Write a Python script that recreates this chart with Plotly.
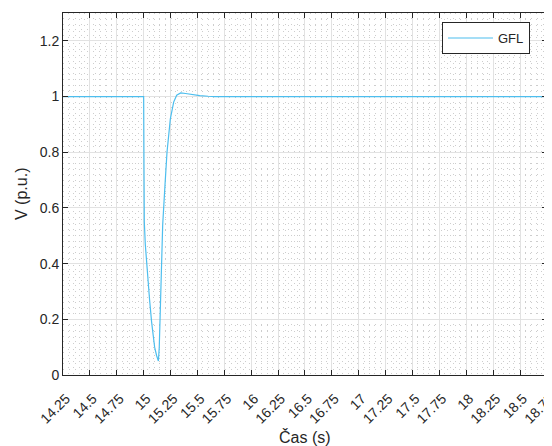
import plotly.graph_objects as go

# Data
t = [14.25, 15.0, 15.003, 15.006, 15.015, 15.025, 15.037, 15.055, 15.074, 15.09, 15.102, 15.12, 15.137,
     15.145, 15.151, 15.161, 15.177, 15.198, 15.217, 15.248, 15.279, 15.307, 15.344,
     15.39, 15.428, 15.48, 15.521, 15.6, 15.66, 18.75]
v = [1.0, 1.0, 0.75, 0.55, 0.47, 0.41, 0.35, 0.27, 0.19, 0.135, 0.10, 0.07, 0.05,
     0.10, 0.18, 0.36, 0.54, 0.68, 0.80, 0.92, 0.98, 1.005, 1.013,
     1.011, 1.008, 1.005, 1.003, 1.001, 1.0, 1.0]

x_ticks = [14.25 + 0.25 * i for i in range(19)]
x_tick_labels = [("%g" % x) for x in x_ticks]
y_ticks = [0, 0.2, 0.4, 0.6, 0.8, 1, 1.2]
y_tick_labels = ["0", "0.2", "0.4", "0.6", "0.8", "1", "1.2"]

FONT = "Liberation Sans, Arial, Helvetica, sans-serif"
AX = "#262626"

fig = go.Figure()
fig.add_trace(go.Scatter(x=t, y=v, mode="lines", name="GFL",
                         line=dict(color="#4DBEEE", width=1.2)))

common = dict(showline=True, linecolor=AX, linewidth=1, mirror="ticks",
              ticks="inside", ticklen=5, tickcolor=AX,
              showgrid=True, gridcolor="#e2e2e2", gridwidth=1,
              zeroline=False, automargin=False,
              tickfont=dict(family=FONT, size=14, color=AX))

fig.update_xaxes(range=[14.25, 18.7502], tickvals=x_ticks, ticktext=x_tick_labels,
                 tickangle=-45, ticklabelstandoff=9, ticklabelshift=3,
                 ticklabeloverflow="allow",
                 minor=dict(dtick=0.05, tick0=14.25, showgrid=True, gridcolor="#cdcdcd",
                            griddash="1px,5px", gridwidth=1, ticks=""),
                 **common)
fig.update_yaxes(range=[0, 1.3], tickvals=y_ticks, ticktext=y_tick_labels,
                 minor=dict(dtick=0.02, tick0=0, showgrid=True, gridcolor="#cdcdcd",
                            griddash="1px,5px", gridwidth=1, ticks=""),
                 **common)

# the page body adds an 8px margin, so the figure is sized to fit the remaining window
fig.update_layout(
    width=544, height=438,
    margin=dict(l=55, r=5, t=5, b=71, autoexpand=False),
    paper_bgcolor="white", plot_bgcolor="white",
    font=dict(family=FONT, color=AX),
    showlegend=True,
    legend=dict(x=0.783, y=0.975, xanchor="left", yanchor="top",
                bgcolor="white", bordercolor=AX, borderwidth=1,
                font=dict(family=FONT, size=13, color=AX),
                itemwidth=45, tracegroupgap=0),
    annotations=[
        dict(text="Čas (s)", xref="paper", yref="paper", x=0.5, y=0,
             yshift=-62, xanchor="center", yanchor="middle", showarrow=False,
             font=dict(family=FONT, size=16, color=AX)),
        dict(text="V (p.u.)", xref="paper", yref="paper", x=0, y=0.5,
             xshift=-42, xanchor="center", yanchor="middle", textangle=-90,
             showarrow=False, font=dict(family=FONT, size=16, color=AX)),
    ],
)

fig.write_html("out.html")
